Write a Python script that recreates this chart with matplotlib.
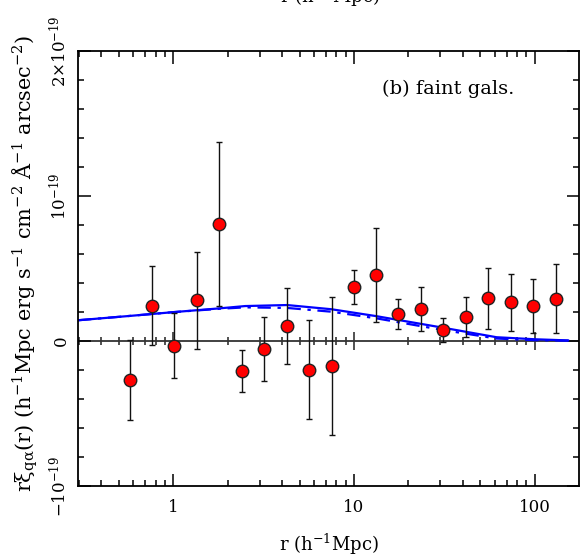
import numpy as np
import matplotlib
matplotlib.use("Agg")
import matplotlib.pyplot as plt
from matplotlib.ticker import MultipleLocator, NullFormatter, FixedLocator

plt.rcParams['font.family'] = ['DejaVu Serif']
plt.rcParams['mathtext.fontset'] = 'dejavuserif'
plt.rcParams['mathtext.default'] = 'regular'

# data (units of 1e-19)
r_pts = [0.574, 0.762, 1.015, 1.353, 1.797, 2.415, 3.177, 4.259, 5.636, 7.525,
         9.94, 13.24, 17.59, 23.39, 31.20, 41.51, 55.36, 73.67, 97.5, 131.2]
xi_pts = [-0.269, 0.243, -0.032, 0.281, 0.807, -0.205, -0.055, 0.103, -0.198, -0.174,
          0.372, 0.457, 0.188, 0.221, 0.078, 0.168, 0.294, 0.266, 0.241, 0.292]
xi_err = [0.279, 0.274, 0.222, 0.336, 0.564, 0.144, 0.222, 0.261, 0.343, 0.475,
          0.118, 0.324, 0.105, 0.151, 0.084, 0.138, 0.211, 0.195, 0.189, 0.238]

r_model = [0.297, 0.575, 1.0, 1.8, 2.5, 4.26, 7.5, 13.2, 31.0, 61.5, 100.0, 153.0]
model_solid = [0.143, 0.173, 0.199, 0.225, 0.241, 0.248, 0.219, 0.172, 0.092, 0.026, 0.012, 0.004]
model_dashdot = [0.143, 0.173, 0.199, 0.222, 0.232, 0.228, 0.202, 0.157, 0.076, 0.017, 0.006, 0.002]

x_ticks = [1, 10, 100]
x_ticklabels = ['1', '10', '100']
y_ticks = [-1e-19, 0, 1e-19, 2e-19]
y_ticklabels = [r'$-10^{-19}$', '0', r'$10^{-19}$', r'$2{\times}10^{-19}$']

scale = 1e-19
xi = np.array(xi_pts) * scale
err = np.array(xi_err) * scale

fig = plt.figure(figsize=(5.8, 5.57), dpi=100)
ax = fig.add_axes([78/580, 1-486/557, (579-78)/580, (486-51)/557])
ax.set_xscale('log')
xmin, xmax = 10**(-0.5274), 10**(2.2452)
ax.set_xlim(xmin, xmax)
ax.set_ylim(-1e-19, 2e-19)

# zero line with its ticks
ax.axhline(0, color='#333333', lw=1.3, zorder=1)
mins = [m * 10.0**e for e in range(-1, 3) for m in range(2, 10)]
mins = [v for v in mins if xmin < v < xmax]
ax.plot(x_ticks, [0]*len(x_ticks), ls='none', marker='|', ms=13, mew=1.2, color='#333333', zorder=1)
ax.plot(mins, [0]*len(mins), ls='none', marker='|', ms=6, mew=1.2, color='#333333', zorder=1)

# models
ax.plot(r_model, np.array(model_solid)*scale, color='#0000ff', lw=1.6, zorder=2)
ax.plot(r_model, np.array(model_dashdot)*scale, color='#0000ff', lw=1.6,
        dashes=(6, 3, 1.5, 3), zorder=2)

# data
ax.errorbar(r_pts, xi, yerr=err, fmt='o', ms=9, mfc='#ff0000', mec='#222222', mew=1.0,
            ecolor='#111111', elinewidth=1.0, capsize=2.5, capthick=1.0, zorder=3)

# ticks
ax.xaxis.set_major_locator(FixedLocator(x_ticks))
ax.xaxis.set_minor_locator(FixedLocator(mins))
ax.xaxis.set_minor_formatter(NullFormatter())
ax.set_xticklabels(x_ticklabels)
ax.yaxis.set_major_locator(FixedLocator(y_ticks))
ax.yaxis.set_minor_locator(MultipleLocator(0.2e-19))
ax.set_yticklabels(y_ticklabels, rotation=90, va='center')
ax.tick_params(which='both', direction='in', top=True, right=True, width=1.1, labelsize=12)
ax.tick_params(which='major', length=9)
ax.tick_params(which='minor', length=4.5)
ax.tick_params(axis='x', pad=9)
ax.tick_params(axis='y', pad=6)
for s in ax.spines.values():
    s.set_linewidth(1.3)

ax.set_xlabel(r'r (h$^{-1}$Mpc)', fontsize=13, labelpad=12)
ax.set_ylabel(r'r$\xi_{q\alpha}$(r) (h$^{-1}$Mpc erg s$^{-1}$ cm$^{-2}$ Å$^{-1}$ arcsec$^{-2}$)',
              fontsize=15)
ax.yaxis.set_label_coords(-0.076, 0.511)

ax.text(0.607, 0.900, '(b) faint gals.', transform=ax.transAxes, fontsize=14,
        ha='left', va='baseline')

# clipped label of the panel above
fig.text(330/580, 1 + 4/557, r'r (h$^{-1}$Mpc)', fontsize=13, ha='center', va='center')

fig.savefig('out.png', dpi=100)
